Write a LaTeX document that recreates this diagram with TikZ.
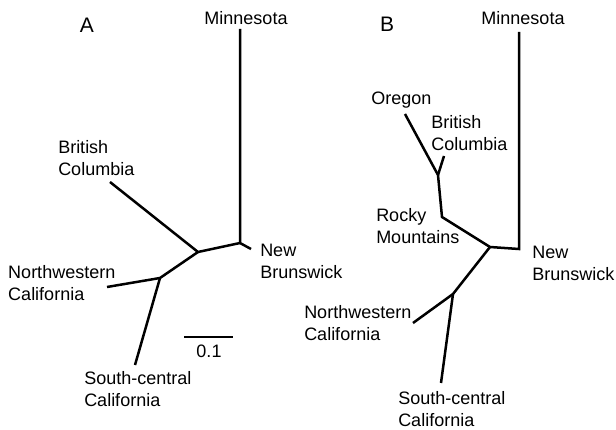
\documentclass[tikz,border=0pt]{standalone}
\usepackage{fontspec}
\setmainfont{Liberation Sans}
\usetikzlibrary{positioning}

\begin{document}
\begin{tikzpicture}[x=1pt,y=-1pt,line width=2.5pt,
  lab/.style={inner sep=0pt,align=left,anchor=west,font=\fontsize{18}{22}\selectfont},
  ttl/.style={inner sep=0pt,font=\fontsize{18}{22}\selectfont},
  big/.style={inner sep=0pt,font=\fontsize{21}{25}\selectfont}]
\useasboundingbox (0,0) rectangle (616,430);
% tree A
\coordinate (amn) at (240,29);
\coordinate (anb) at (240,243);
\coordinate (anbt) at (251,249);
\coordinate (aa) at (198,252);
\coordinate (abc) at (110,182);
\coordinate (ab) at (160,278);
\coordinate (anw) at (107,287);
\coordinate (asc) at (135,365);
\draw (amn) -- (anb) -- (anbt);
\draw (anb) -- (aa) -- (abc);
\draw (aa) -- (ab) -- (anw);
\draw (ab) -- (asc);
\node[big] (atitle) at (87,25) {A};
\node[ttl] (amnlab) at (246,18) {Minnesota};
\node[lab] (abclab) at (57,158) {British\\Columbia};
\node[lab] (anblab) at (259,261) {New\\Brunswick};
\node[lab] (anwlab) at (7,283) {Northwestern\\California};
\node[lab] (asclab) at (83,389) {South-central\\California};
% scale bar
\coordinate (sbl) at (184,337);
\coordinate (sbr) at (233,337);
\draw (sbl) -- (sbr);
\node[ttl] (sblab) at (209,351) {0.1};
% tree B
\coordinate (bmn) at (519,32);
\coordinate (bnb) at (519,249);
\coordinate (ba) at (490,247);
\coordinate (brm) at (442,217);
\coordinate (bf) at (438,175);
\coordinate (bor) at (405,114);
\coordinate (bbc) at (444,156);
\coordinate (bb) at (453,294);
\coordinate (bnw) at (413,323);
\coordinate (bsc) at (441,383);
\draw (bmn) -- (bnb) -- (ba);
\draw (ba) -- (brm) -- (bf) -- (bor);
\draw (bf) -- (bbc);
\draw (ba) -- (bb) -- (bnw);
\draw (bb) -- (bsc);
\node[big] (btitle) at (387,24) {B};
\node[ttl] (bmnlab) at (523,18) {Minnesota};
\node[lab,anchor=base west] (borlab) at (370,105) {Oregon};
\node[lab] (bbclab) at (430,133) {British\\Columbia};
\node[lab] (brmlab) at (375,226) {Rocky\\Mountains};
\node[lab] (bnblab) at (531,263) {New\\Brunswick};
\node[lab] (bnwlab) at (303,323) {Northwestern\\California};
\node[lab] (bsclab) at (397,409) {South-central\\California};
\end{tikzpicture}
\end{document}
